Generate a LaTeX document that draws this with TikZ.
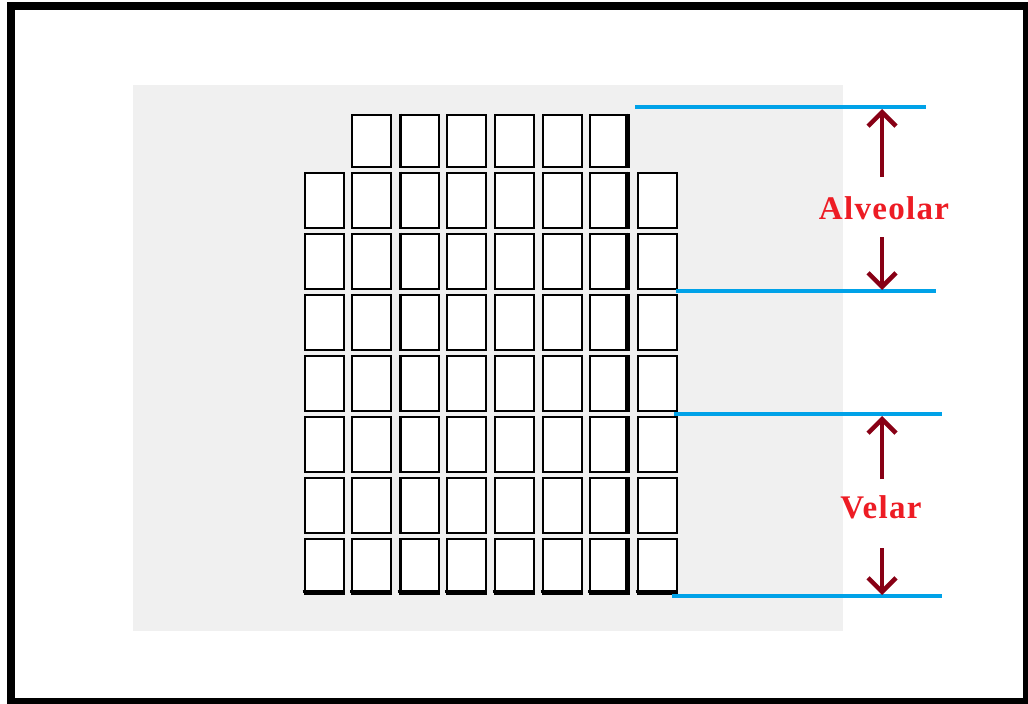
\documentclass[tikz,border=0pt]{standalone}
\usepackage{fontspec}
\setmainfont{Liberation Serif}
\usetikzlibrary{arrows.meta}
\definecolor{bgray}{HTML}{F0F0F0}
\definecolor{lblue}{HTML}{00A2E8}
\definecolor{dred}{HTML}{880015}
\definecolor{lred}{HTML}{ED1C24}
\tikzset{
  cell/.style={draw=black, line width=2pt, fill=white, minimum width=39pt, minimum height=55pt, inner sep=0pt, anchor=north west},
  topcell/.style={cell, minimum height=52pt},
  level/.style={draw=lblue, line width=3.5pt},
  arr/.style={draw=dred, line width=4pt, -{Straight Barb[length=14pt,width=28pt,line width=4.5pt]}},
  lab/.style={text=lred, font=\bfseries\fontsize{33}{33}\selectfont\addfontfeature{LetterSpace=4}, inner sep=0pt}
}
\begin{document}
\begin{tikzpicture}[x=1pt,y=-1pt]
\useasboundingbox (0,0) rectangle (1028,704);
\fill[white] (0,0) rectangle (1028,704);
\draw[line width=8pt] (11,6) rectangle (1027,702);
\fill[bgray] (133,85) rectangle (843,631);
% top row
\foreach \i in {1,...,6} {
  \node[topcell] (t\i) at ({303.5+47.6*\i},113.5) {};
}
% main grid
\foreach \j in {0,...,6} {
  \foreach \i in {0,...,7} {
    \node[cell] (c\j\i) at ({303.5+47.6*\i},{171.5+61.1*\j}) {};
  }
}
% thicker shading edges
\foreach \j in {0,...,6} {
  \draw[line width=3pt] ({303.5+47.6*2+1.5},{171.5+61.1*\j}) -- ++(0,55);
  \draw[line width=3pt] ({303.5+47.6*6+39-1.5},{171.5+61.1*\j}) -- ++(0,55);
}
\draw[line width=3pt] ({303.5+47.6*2+1.5},113.5) -- ++(0,52);
\draw[line width=3pt] ({303.5+47.6*6+39-1.5},113.5) -- ++(0,52);
\foreach \i in {0,...,7} {
  \draw[line width=3pt] ({303.5+47.6*\i-1},{171.5+61.1*6+55-1.5}) -- ++(41,0);
}
% level lines
\coordinate (l1a) at (635,107);
\coordinate (l1b) at (926,107);
\coordinate (l2a) at (676,291);
\coordinate (l2b) at (936,291);
\coordinate (l3a) at (674,414);
\coordinate (l3b) at (942,414);
\coordinate (l4a) at (672,596);
\coordinate (l4b) at (942,596);
\draw[level] (l1a) -- (l1b);
\draw[level] (l2a) -- (l2b);
\draw[level] (l3a) -- (l3b);
\draw[level] (l4a) -- (l4b);
% labels
\node[lab] (alv) at (884,208) {Alveolar};
\node[lab] (vel) at (881,507) {Velar};
% arrows
\coordinate (a1s) at (882,177);
\coordinate (a1e) at (882,109);
\coordinate (a2s) at (882,237);
\coordinate (a2e) at (882,290);
\coordinate (v1s) at (882,479);
\coordinate (v1e) at (882,416);
\coordinate (v2s) at (882,548);
\coordinate (v2e) at (882,595);
\draw[arr] (a1s) -- (a1e);
\draw[arr] (a2s) -- (a2e);
\draw[arr] (v1s) -- (v1e);
\draw[arr] (v2s) -- (v2e);
\end{tikzpicture}
\end{document}
